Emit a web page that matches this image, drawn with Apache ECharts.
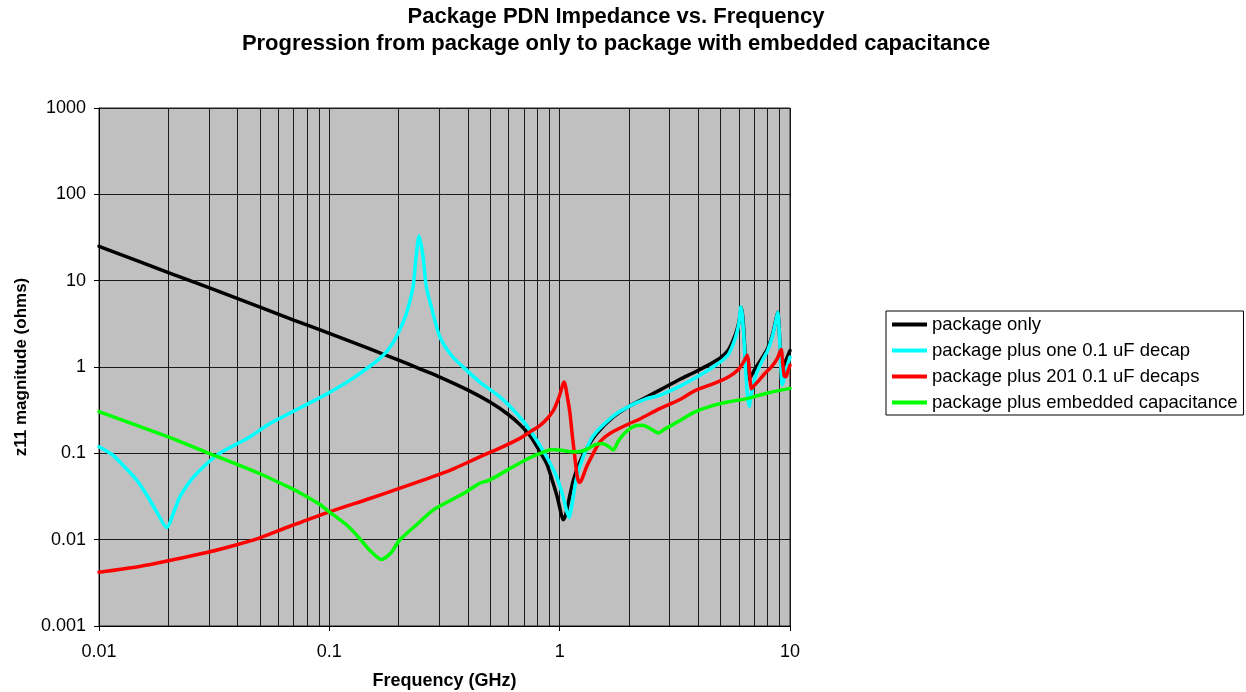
<!DOCTYPE html>
<html>
<head>
<meta charset="utf-8">
<script src="https://cdn.jsdelivr.net/npm/echarts@6/dist/echarts.min.js"></script>
<style>
html,body{margin:0;padding:0;background:#fff;}
#chart{width:1246px;height:692px;}
</style>
</head>
<body>
<div id="chart"></div>
<script>
// Frequency (GHz), impedance (ohms) pairs
const packageOnly = [
  [0.01,25],[0.015,16.6],[0.02,12.4],[0.03,8.3],[0.05,4.95],[0.07,3.5],[0.1,2.45],[0.15,1.62],
  [0.2,1.2],[0.25,0.94],[0.3,0.77],[0.4,0.54],[0.5,0.39],[0.6,0.28],[0.672,0.215],[0.75,0.155],
  [0.82,0.105],[0.88,0.075],[0.937,0.045],[0.98,0.03],[1.01,0.021],[1.036,0.017],[1.06,0.019],
  [1.1,0.03],[1.15,0.05],[1.22,0.078],[1.3,0.11],[1.45,0.17],[1.7,0.26],[2.0,0.35],[2.23,0.41],
  [2.72,0.54],[3.33,0.72],[3.85,0.87],[4.5,1.08],[5.0,1.28],[5.42,1.6],[5.8,2.4],[6.0,3.3],
  [6.15,4.9],[6.25,3.6],[6.35,1.8],[6.45,0.95],[6.55,0.72],[6.7,0.75],[7.0,0.92],[7.6,1.3],
  [8.0,1.65],[8.4,2.4],[8.7,3.6],[8.85,4.3],[8.95,3.2],[9.05,1.8],[9.2,1.1],[9.35,1.0],[9.6,1.2],[10,1.55]
];
const oneDecap = [
  [0.01,0.119],[0.0115,0.095],[0.0127,0.073],[0.0145,0.05],[0.016,0.034],[0.0178,0.021],[0.0197,0.0138],
  [0.021,0.02],[0.0224,0.031],[0.0245,0.045],[0.0265,0.058],[0.03,0.08],[0.0334,0.1],[0.04,0.13],
  [0.0451,0.155],[0.055,0.22],[0.065,0.278],[0.0744,0.335],[0.09,0.435],[0.1,0.506],[0.1227,0.7],
  [0.15,1.02],[0.165,1.25],[0.177,1.5],[0.19,1.95],[0.2019,2.68],[0.212,3.6],[0.22,4.9],[0.231,8.5],
  [0.238,18.9],[0.2453,32.9],
  [0.2553,18.9],[0.2637,8.5],[0.28,4.5],[0.3017,2.24],[0.34,1.35],[0.394,0.92],[0.45,0.67],
  [0.5496,0.45],[0.628,0.32],[0.7,0.23],[0.794,0.142],[0.88,0.09],[0.97,0.0535],[1.03,0.033],
  [1.07,0.022],[1.1,0.018],[1.13,0.025],[1.18,0.05],[1.265,0.091],[1.4,0.16],[1.708,0.27],
  [2.0,0.35],[2.385,0.43],[2.72,0.47],[3.33,0.6],[3.85,0.74],[4.5,0.95],[5.0,1.15],[5.42,1.42],
  [5.8,2.2],[6.0,3.2],[6.12,5.0],[6.22,3.8],[6.35,1.6],[6.5,0.55],[6.65,0.35],[6.8,0.5],[7.1,0.8],
  [7.6,1.2],[8.0,1.55],[8.4,2.3],[8.7,3.5],[8.85,4.3],[8.98,2.6],[9.1,1.2],[9.25,0.62],[9.4,0.7],
  [9.7,1.0],[10,1.3]
];
const decaps201 = [
  [0.01,0.0042],[0.015,0.0049],[0.02,0.0057],[0.03,0.0072],[0.04,0.0088],[0.05,0.0105],[0.0674,0.0143],
  [0.0744,0.0157],[0.1,0.021],[0.15,0.03],[0.2,0.039],[0.2553,0.049],[0.3,0.057],[0.35,0.067],
  [0.45,0.091],[0.55,0.115],[0.672,0.149],[0.75,0.18],[0.82,0.21],[0.88,0.25],[0.937,0.31],
  [0.97,0.38],[1.0,0.47],[1.017,0.55],[1.035,0.64],[1.046,0.67],[1.06,0.6],[1.08,0.45],[1.107,0.3],
  [1.135,0.16],[1.164,0.09],[1.19,0.055],[1.216,0.046],[1.24,0.048],[1.309,0.07],[1.4,0.1],
  [1.495,0.136],[1.652,0.17],[2.0,0.22],[2.23,0.25],[2.72,0.33],[3.33,0.42],[3.85,0.53],[4.72,0.65],
  [5.42,0.77],[6.0,0.95],[6.3,1.15],[6.52,1.37],[6.62,1.1],[6.72,0.68],[6.8,0.56],[6.95,0.6],
  [7.4,0.72],[7.77,0.84],[8.3,1.0],[8.8,1.25],[9.05,1.5],[9.16,1.6],[9.3,1.1],[9.45,0.78],
  [9.6,0.77],[9.8,0.9],[10,1.05]
];
const embeddedCap = [
  [0.01,0.304],[0.015,0.205],[0.02,0.155],[0.03,0.1],[0.04,0.074],[0.05,0.058],[0.0674,0.04],
  [0.0744,0.035],[0.09,0.026],[0.1,0.021],[0.12,0.0145],[0.1355,0.0103],[0.15,0.0075],[0.1684,0.0059],
  [0.185,0.007],[0.202,0.0099],[0.24,0.015],[0.282,0.022],[0.34,0.029],[0.394,0.036],[0.45,0.045],
  [0.496,0.049],[0.628,0.07],[0.75,0.09],[0.85,0.103],[0.923,0.111],[1.0,0.109],[1.1,0.105],
  [1.184,0.104],[1.3,0.11],[1.42,0.125],[1.53,0.13],[1.62,0.122],[1.708,0.109],[1.8,0.14],
  [1.953,0.18],[2.15,0.21],[2.3,0.212],[2.5,0.19],[2.68,0.172],[2.85,0.19],[3.33,0.24],[3.85,0.3],
  [4.5,0.35],[5.42,0.395],[6.5,0.43],[8,0.5],[10,0.565]
];
const seriesNames = [
  'package only',
  'package plus one 0.1 uF decap',
  'package plus 201 0.1 uF decaps',
  'package plus embedded capacitance'
];
const seriesColors = ['#000000','#00ffff','#ff0000','#00ff00'];
const seriesData = [packageOnly, oneDecap, decaps201, embeddedCap];

// minor vertical grid positions (2..9 in each decade)
const minorX = [];
[0.01,0.1,1].forEach(d => { for (let k = 2; k <= 9; k++) minorX.push(+(d*k).toPrecision(3)); });

const FONT = "'Liberation Sans', Arial, Helvetica, sans-serif";
const fmt = v => String(parseFloat(Number(v).toPrecision(6)));

const chart = echarts.init(document.getElementById('chart'), null, {renderer:'canvas'});
const series = seriesData.map((d, i) => ({
  name: seriesNames[i],
  type: 'line',
  data: d,
  symbol: 'none',
  showSymbol: false,
  smooth: 0.25,
  lineStyle: {color: seriesColors[i], width: 3.5, cap: 'round', join: 'round'},
  itemStyle: {color: seriesColors[i]},
  emphasis: {disabled: true},
  z: 3 + i
}));
series.unshift({
  name: 'minorgrid',
  type: 'line',
  data: [],
  silent: true,
  z: 1,
  markLine: {
    z: 1,
    silent: true,
    animation: false,
    symbol: ['none','none'],
    label: {show: false},
    lineStyle: {color: '#1a1a1a', width: 1, type: 'solid'},
    emphasis: {disabled: true},
    data: minorX.map(v => ({xAxis: v}))
  }
});

chart.setOption({
  animation: false,
  backgroundColor: '#ffffff',
  textStyle: {fontFamily: FONT},
  title: {
    text: 'Package PDN Impedance vs. Frequency\nProgression from package only to package with embedded capacitance',
    left: 616, top: 3, padding: 0, textAlign: 'center',
    textStyle: {fontFamily: FONT, fontSize: 22, fontWeight: 'bold', color: '#000', lineHeight: 27}
  },
  legend: {
    data: seriesNames,
    orient: 'vertical',
    left: 886, top: 311,
    padding: [4, 6, 3, 6],
    itemGap: 7,
    itemWidth: 35, itemHeight: 4,
    icon: 'rect',
    backgroundColor: '#ffffff',
    borderColor: '#000', borderWidth: 1,
    selectedMode: false,
    textStyle: {fontFamily: FONT, fontSize: 18.5, color: '#000', lineHeight: 18}
  },
  grid: {
    left: 99, top: 108, right: 456, bottom: 66,
    show: true, backgroundColor: '#c0c0c0', borderColor: '#222', borderWidth: 1,
    containLabel: false,
    outerBoundsMode: 'none'
  },
  xAxis: {
    type: 'log', logBase: 10, min: 0.01, max: 10,
    name: 'Frequency (GHz)', nameLocation: 'middle', nameGap: 46,
    nameTextStyle: {fontFamily: FONT, fontSize: 18, fontWeight: 'bold', color: '#000'},
    axisLine: {show: true, onZero: false, lineStyle: {color: '#000', width: 1}},
    axisTick: {show: true, inside: false, length: 5, lineStyle: {color: '#000'}},
    axisLabel: {fontFamily: FONT, fontSize: 18, color: '#000', margin: 17, formatter: fmt},
    splitLine: {show: true, lineStyle: {color: '#1a1a1a', width: 1}},
    minorTick: {show: false}, minorSplitLine: {show: false}
  },
  yAxis: {
    type: 'log', logBase: 10, min: 0.001, max: 1000,
    name: 'z11 magnitude (ohms)', nameLocation: 'middle', nameGap: 65, nameRotate: 90,
    nameTextStyle: {fontFamily: FONT, fontSize: 17, fontWeight: 'bold', color: '#000'},
    axisLine: {show: true, onZero: false, lineStyle: {color: '#000', width: 1}},
    axisTick: {show: true, inside: false, length: 5, lineStyle: {color: '#000'}},
    axisLabel: {fontFamily: FONT, fontSize: 18, color: '#000', margin: 13, formatter: fmt},
    splitLine: {show: true, lineStyle: {color: '#1a1a1a', width: 1}}
  },
  series: series
});
</script>
</body>
</html>
